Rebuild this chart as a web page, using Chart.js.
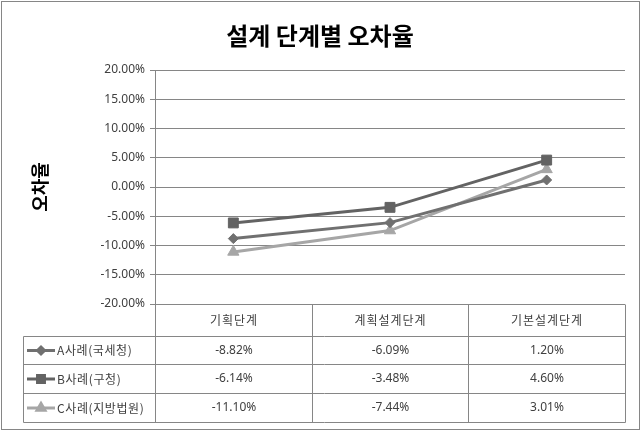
<!DOCTYPE html>
<html>
<head>
<meta charset="utf-8">
<script src="https://cdn.jsdelivr.net/npm/chart.js@4/dist/chart.umd.min.js"></script>
<style>
  body { margin: 0; background: #fff; }
  canvas { display: block; }
</style>
</head>
<body>
<canvas id="myChart" width="642" height="431"></canvas>
<script>
const chartTitle = "설계 단계별 오차율";
const axisTitle = "오차율";
const categories = ["기획단계", "계획설계단계", "기본설계단계"];
const seriesNames = ["A사례(국세청)", "B사례(구청)", "C사례(지방법원)"];
const caseA = [-8.82, -6.09, 1.20];
const caseB = [-6.14, -3.48, 4.60];
const caseC = [-11.10, -7.44, 3.01];
const yTicks = [-20, -15, -10, -5, 0, 5, 10, 15, 20];

const seriesValues = [caseA, caseB, caseC];
const colors = ["#707070", "#636363", "#a6a6a6"];
const markers = [
  { style: "rectRot", r: 5 },
  { style: "rect", r: 7 },
  { style: "triangle", r: 6.5 },
];

const fmt = (v) => v.toFixed(2) + "%";

// outer border, title and the data table under the plot
const tablePlugin = {
  id: "dataTable",
  afterDraw(chart) {
    const c = chart.ctx;
    const area = chart.chartArea;
    const x = chart.scales.x;
    c.save();

    c.strokeStyle = "#868686";
    c.lineWidth = 1;
    c.strokeRect(1.5, 1.5, 638, 428);

    c.fillStyle = "#000";
    c.font = "bold 24px 'Noto Sans CJK KR'";
    c.textAlign = "center";
    c.textBaseline = "middle";
    c.fillText(chartTitle, 320, 36);

    const top = Math.round(area.bottom) + 0.5;
    const rows = [top, 336.5, 364.5, 393.5, 422.5];
    const left = 23.5;
    const bounds = [Math.round(area.left) + 0.5];
    for (let i = 0; i < categories.length - 1; i++) {
      bounds.push(Math.round((x.getPixelForValue(i) + x.getPixelForValue(i + 1)) / 2) + 0.5);
    }
    bounds.push(Math.round(area.right) + 0.5);

    c.strokeStyle = "#868686";
    c.beginPath();
    for (let r = 1; r < rows.length; r++) {
      c.moveTo(left, rows[r]);
      c.lineTo(bounds[bounds.length - 1], rows[r]);
    }
    c.moveTo(left, rows[1]);
    c.lineTo(left, rows[rows.length - 1]);
    bounds.forEach((b) => {
      c.moveTo(b, rows[0]);
      c.lineTo(b, rows[rows.length - 1]);
    });
    c.stroke();

    const spacing = (px) => { if ("letterSpacing" in c) c.letterSpacing = px; };

    c.fillStyle = "#404040";
    c.font = "12px 'Noto Sans CJK KR'";
    spacing("1px");
    categories.forEach((cat, i) => {
      c.fillText(cat, (bounds[i] + bounds[i + 1]) / 2, (rows[0] + rows[1]) / 2);
    });

    seriesValues.forEach((vals, s) => {
      const cy = (rows[s + 1] + rows[s + 2]) / 2;
      spacing("0px");
      c.fillStyle = "#404040";
      c.font = "12px 'Noto Sans'";
      c.textAlign = "center";
      vals.forEach((v, i) => {
        c.fillText(fmt(v), (bounds[i] + bounds[i + 1]) / 2, cy);
      });
      c.strokeStyle = colors[s];
      c.lineWidth = 3;
      c.beginPath();
      c.moveTo(27, cy);
      c.lineTo(55, cy);
      c.stroke();
      c.fillStyle = colors[s];
      Chart.helpers.drawPoint(c, {
        pointStyle: markers[s].style,
        radius: markers[s].r * 0.7,
        borderWidth: 1,
      }, 41, cy);
      c.fillStyle = "#404040";
      c.font = "12px 'Noto Sans CJK KR'";
      c.textAlign = "left";
      spacing("0.6px");
      c.fillText(seriesNames[s], 57, cy);
    });
    c.restore();
  },
};

new Chart(document.getElementById("myChart"), {
  type: "line",
  data: {
    labels: categories,
    datasets: seriesValues.map((vals, s) => ({
      label: seriesNames[s],
      data: vals,
      borderColor: colors[s],
      backgroundColor: colors[s],
      borderWidth: 3,
      pointStyle: markers[s].style,
      pointRadius: markers[s].r,
      pointBorderWidth: 1,
      tension: 0,
    })),
  },
  options: {
    responsive: false,
    animation: false,
    layout: { padding: { left: 0, right: 17, top: 70, bottom: 127 } },
    plugins: {
      legend: { display: false },
      tooltip: { enabled: false },
    },
    scales: {
      x: {
        display: false,
        offset: true,
      },
      y: {
        min: yTicks[0],
        max: yTicks[yTicks.length - 1],
        afterBuildTicks: (scale) => {
          scale.ticks = yTicks.map((v) => ({ value: v }));
        },
        afterFit: (scale) => {
          scale.width = 155;
        },
        grid: {
          color: "#868686",
          tickLength: 5,
        },
        border: { color: "#868686" },
        ticks: {
          color: "#404040",
          font: { family: "'Noto Sans'", size: 12 },
          padding: 5,
          callback: (v) => fmt(v),
        },
        title: {
          display: true,
          text: axisTitle,
          color: "#000",
          font: { family: "'Noto Sans CJK KR'", size: 18, weight: "bold" },
          padding: { top: 29, bottom: 0 },
        },
      },
    },
  },
  plugins: [tablePlugin],
});
</script>
</body>
</html>
